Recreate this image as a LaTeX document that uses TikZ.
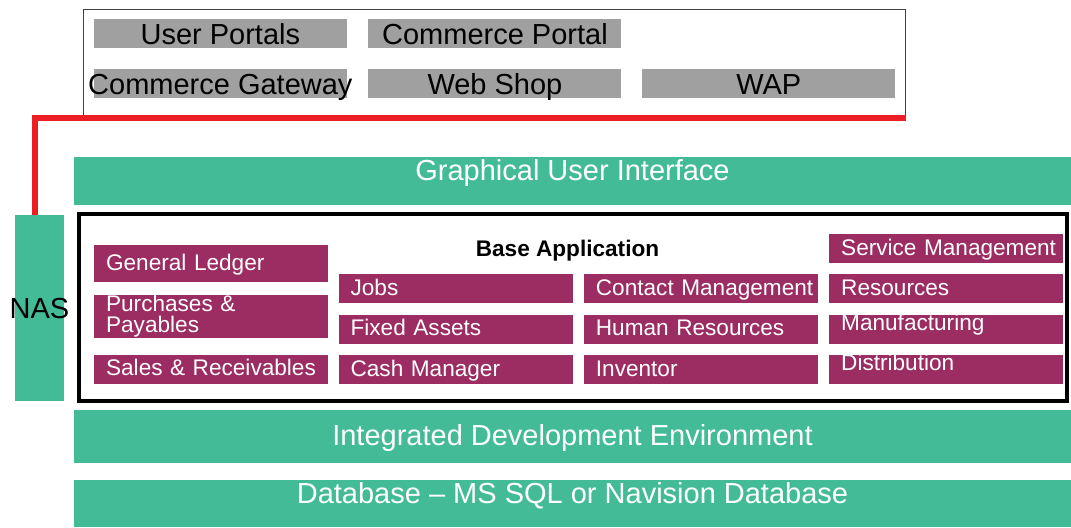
\documentclass[tikz,border=0pt]{standalone}
\usepackage{fontspec}
\setmainfont{Liberation Sans}
\usetikzlibrary{positioning}
\definecolor{layergreen}{RGB}{67,187,150}
\definecolor{modpurple}{RGB}{155,45,98}
\definecolor{portalgray}{RGB}{160,160,160}
\definecolor{linkred}{RGB}{235,30,36}
\newcommand\barfont{\fontsize{14.5}{17}\selectfont}
\newcommand\modfont{\fontsize{11.3}{13}\selectfont}
\tikzset{
	layer/.style={rectangle, fill=layergreen, text=white, font=\barfont, inner sep=0pt, minimum width=498.5pt},
	portal/.style={rectangle, fill=portalgray, font=\barfont, inner sep=0pt, minimum width=126.5pt, minimum height=14.5pt, text height=10.5pt, text depth=0pt},
	modbox/.style={rectangle, fill=modpurple, text=white, font=\modfont, text width=105pt, inner xsep=6pt, inner ysep=0pt, align=left, minimum height=14.5pt},
	% single line modules, text a bit below the middle
	modline/.style={modbox, text height=9pt, text depth=2.5pt},
	modhigh/.style={modbox, text height=7pt, text depth=6pt},
	link/.style={draw=linkred, line width=3pt},
}

\begin{document}
\begin{tikzpicture}[x=0.5pt, y=-0.5pt]
	\useasboundingbox (0,0) rectangle (1071,527);
	
	% portals on top
	\node (portals) [draw=black!75, line width=0.75pt, minimum width=411pt, minimum height=53.75pt, inner sep=0pt] at (494.5,63.25) {};
	\node (userp) [portal] at (220.35,33.8) {User Portals};
	\node (comport) [portal, right=10.4pt of userp] {Commerce Portal};
	\node (gateway) [portal, below=10pt of userp] {\makebox[0pt]{Commerce Gateway}};
	\node (webshop) [portal, below=10pt of comport] {Web Shop};
	\node (wap) [portal, right=10pt of webshop] {WAP};
	
	% layers
	\node (gui) [layer, minimum height=24.15pt, text height=6pt, text depth=6pt] at (572.5,180.85) {Graphical User Interface};
	\node (nas) [rectangle, fill=layergreen, font=\barfont, inner sep=0pt, minimum width=24.5pt, minimum height=92.85pt, text height=10.5pt, text depth=0pt] at (39.5,307.85) {\makebox[0pt]{NAS}};
	\node (ide) [layer, minimum height=26.65pt, text height=10.5pt, text depth=2pt] at (572.5,436.65) {Integrated Development Environment};
	\node (db) [layer, minimum height=23.5pt, text height=6pt, text depth=6pt] at (572.5,503.5) {Database -- MS SQL or Navision Database};
	
	\draw[link] ([xshift=-2.35pt]nas.north) |- (portals.south east);
	
	% base application
	\node (base) [draw, line width=2pt, minimum width=494pt, minimum height=93.5pt, inner sep=0pt] at (573,307.5) {};
	\node (basetitle) [font=\modfont\bfseries, anchor=base, inner sep=0pt] at (567.5,256) {Base Application};
	
	\node (ledger) [modline, minimum height=18.35pt, anchor=north west] at (93.7,245) {General Ledger};
	\node (purch) [modbox, minimum height=21.35pt, font=\fontsize{11.3}{10.5}\selectfont, below=6.15pt of ledger] {Purchases \&\\Payables};
	\node (sales) [modline, below=8pt of purch] {\mbox{Sales \& Receivables}};
	
	\node (jobs) [modline, anchor=north west] at (338.2,274) {Jobs};
	\node (fixed) [modline, below=5.25pt of jobs] {Fixed Assets};
	\node (cash) [modline, below=5.25pt of fixed] {Cash Manager};
	
	\node (contact) [modline, right=5.25pt of jobs] {\mbox{Contact Management}};
	\node (human) [modline, below=5.25pt of contact] {\mbox{Human Resources}};
	\node (inventor) [modline, below=5.25pt of human] {Inventor};
	
	\node (resources) [modline, right=5.25pt of contact] {Resources};
	\node (service) [modline, above=5.25pt of resources] {\mbox{Service Management}};
	\node (manuf) [modhigh, below=5.25pt of resources] {Manufacturing};
	\node (distrib) [modhigh, below=5.25pt of manuf] {Distribution};
\end{tikzpicture}
\end{document}
